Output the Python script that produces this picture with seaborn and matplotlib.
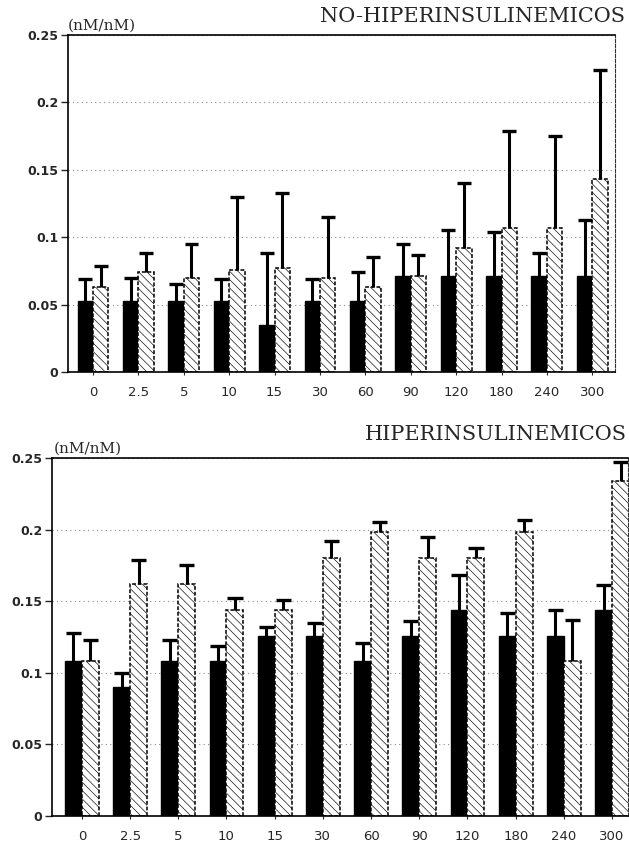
import pandas as pd
import seaborn as sns
import matplotlib.pyplot as plt

TIMES = ['0', '2.5', '5', '10', '15', '30', '60', '90', '120', '180', '240', '300']
Y_TICKS = [0, 0.05, 0.1, 0.15, 0.2, 0.25]
Y_TICK_LABELS = ['0', '0.05', '0.1', '0.15', '0.2', '0.25']
UNIT_LABEL = '(nM/nM)'

# NO-HIPERINSULINEMICOS: bar height and upper end of error bar
NO_HI_SOLID = [0.053, 0.053, 0.053, 0.053, 0.035, 0.053, 0.053,
               0.071, 0.071, 0.071, 0.071, 0.071]
NO_HI_SOLID_TOP = [0.069, 0.070, 0.065, 0.069, 0.088, 0.069, 0.074,
                   0.095, 0.105, 0.104, 0.088, 0.113]
NO_HI_HATCH = [0.063, 0.074, 0.070, 0.076, 0.077, 0.070, 0.063,
               0.071, 0.092, 0.107, 0.107, 0.143]
NO_HI_HATCH_TOP = [0.079, 0.088, 0.095, 0.130, 0.133, 0.115, 0.085,
                   0.087, 0.140, 0.179, 0.175, 0.224]

# HIPERINSULINEMICOS
HI_SOLID = [0.108, 0.090, 0.108, 0.108, 0.126, 0.126, 0.108,
            0.126, 0.144, 0.126, 0.126, 0.144]
HI_SOLID_TOP = [0.128, 0.100, 0.123, 0.119, 0.132, 0.135, 0.121,
                0.136, 0.168, 0.142, 0.144, 0.161]
HI_HATCH = [0.108, 0.162, 0.162, 0.144, 0.144, 0.180, 0.198,
            0.180, 0.180, 0.198, 0.108, 0.234]
HI_HATCH_TOP = [0.123, 0.179, 0.175, 0.152, 0.151, 0.192, 0.205,
                0.195, 0.187, 0.207, 0.137, 0.247]

TICK_FONT = 'DejaVu Sans'
TITLE_FONT = 'DejaVu Serif'


def main():
    sns.set_style('white')
    plt.rcParams['hatch.linewidth'] = 0.45

    fig = plt.figure(figsize=(6.29, 8.44), dpi=100)
    # axes boxes, in pixels
    ax_top = fig.add_axes(box(68, 35, 615, 372))
    ax_bot = fig.add_axes(box(52, 458, 628, 816))

    top_df = build_df(NO_HI_SOLID, NO_HI_HATCH)
    bot_df = build_df(HI_SOLID, HI_HATCH)

    plot_panel(ax_top, top_df, [NO_HI_SOLID_TOP, NO_HI_HATCH_TOP],
               width=0.68, xlim=(-0.55, 11.5))
    plot_panel(ax_bot, bot_df, [HI_SOLID_TOP, HI_HATCH_TOP],
               width=0.70, xlim=(-0.62, 11.33))

    fig.text(625 / 629, 1 - 17 / 844, 'NO-HIPERINSULINEMICOS',
             ha='right', va='center', fontsize=15, family=TITLE_FONT)
    fig.text(68 / 629, 1 - 26 / 844, UNIT_LABEL,
             ha='left', va='center', fontsize=11, family=TITLE_FONT)
    fig.text(627 / 629, 1 - 434 / 844, 'HIPERINSULINEMICOS',
             ha='right', va='center', fontsize=15, family=TITLE_FONT)
    fig.text(54 / 629, 1 - 449 / 844, UNIT_LABEL,
             ha='left', va='center', fontsize=11, family=TITLE_FONT)

    fig.savefig('out.png', dpi=100)
    plt.close(fig)


def box(x0, y0, x1, y1):
    return [x0 / 629, 1 - y1 / 844, (x1 - x0) / 629, (y1 - y0) / 844]


def build_df(solid, hatch):
    return pd.DataFrame({
        'time': TIMES * 2,
        'group': ['solid'] * len(TIMES) + ['hatch'] * len(TIMES),
        'value': solid + hatch,
    })


def plot_panel(ax, df, tops, width, xlim):
    sns.barplot(
        data=df, x='time', y='value', hue='group',
        order=TIMES, hue_order=['solid', 'hatch'],
        palette={'solid': 'black', 'hatch': 'white'},
        width=width, gap=0, saturation=1, errorbar=None,
        legend=False, ax=ax, zorder=2,
    )

    for p in ax.containers[0]:
        p.set_edgecolor('black')
    for p in ax.containers[1]:
        p.set_hatch('\\\\\\\\')
        p.set_edgecolor('black')
        p.set_linestyle((0, (2.5, 1.2)))
        p.set_linewidth(1.1)

    # upper error bars only
    for container, top in zip(ax.containers, tops):
        xs = [p.get_x() + p.get_width() / 2 for p in container]
        hs = [p.get_height() for p in container]
        half = container[0].get_width() * 0.45
        ax.vlines(xs, hs, top, color='black', linewidth=2.2, zorder=3)
        ax.hlines(top, [x - half for x in xs], [x + half for x in xs],
                  color='black', linewidth=2.4, zorder=3)

    ax.set_xlim(*xlim)
    ax.set_ylim(0, 0.25)
    ax.set_yticks(Y_TICKS)
    ax.set_yticklabels(Y_TICK_LABELS, fontsize=9, fontweight='bold',
                       family=TICK_FONT)
    ax.set_xticks(range(len(TIMES)))
    ax.set_xticklabels(TIMES, fontsize=9.5, family=TICK_FONT)
    ax.set_xlabel('')
    ax.set_ylabel('')

    ax.yaxis.grid(True, linestyle=(0, (1, 3)), color='0.55', linewidth=0.8)
    ax.set_axisbelow(True)
    ax.tick_params(axis='y', direction='out', length=5, width=1, pad=2,
                   left=True)
    ax.tick_params(axis='x', direction='out', length=2, width=0.8, pad=8,
                   bottom=True)

    for side in ['left', 'bottom', 'top']:
        ax.spines[side].set_color('black')
        ax.spines[side].set_linewidth(1.2)
    ax.spines['right'].set_color('0.2')
    ax.spines['right'].set_linewidth(0.8)
    ax.spines['right'].set_linestyle((0, (3, 1.5)))


main()
